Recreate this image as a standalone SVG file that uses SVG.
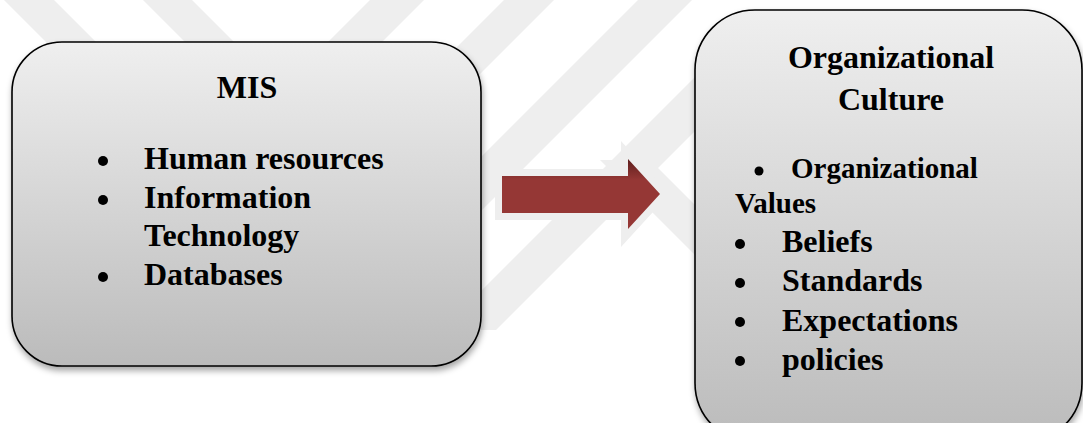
<svg xmlns="http://www.w3.org/2000/svg" width="1083" height="423" viewBox="0 0 1083 423">
  <style>
    .box { stroke: #000000; stroke-width: 1.6; fill: url(#boxGrad); filter: url(#shadow); }
    .t { font-family: "Liberation Serif", "Times New Roman", serif; font-weight: bold; fill: #000000; }
    .big { font-size: 32px; }
    .mid { font-size: 29px; }
    .band { fill: #eeeeee; }
    .dot { fill: #000000; }
  </style>
  <defs>
    <linearGradient id="boxGrad" x1="0" y1="0" x2="0" y2="1">
      <stop offset="0" stop-color="#efefef"/>
      <stop offset="1" stop-color="#bbbbbb"/>
    </linearGradient>
    <linearGradient id="arrowGrad" x1="0" y1="0" x2="0" y2="1">
      <stop offset="0" stop-color="#5e1f1d"/>
      <stop offset="0.3" stop-color="#953735"/>
      <stop offset="1" stop-color="#953735"/>
    </linearGradient>
    <filter id="shadow" x="-10%" y="-10%" width="120%" height="125%">
      <feDropShadow dx="1" dy="4" stdDeviation="3" flood-color="#000000" flood-opacity="0.35"/>
    </filter>
  </defs>

  <g id="watermark">
    <polygon class="band" points="4,0 54,0 134,80 84,80"/>
    <polygon class="band" points="143,0 192,0 272,80 223,80"/>
    <polygon class="band" points="370,0 424,0 364,60 310,60"/>
    <polygon class="band" points="504,0 554,0 474,80 424,80"/>
    <polygon class="band" points="638,0 692,0 472,220 418,220"/>
    <polygon class="band" points="712,60 766,60 496,330 442,330"/>
    <polygon class="band" points="600,160 650,160 770,280 720,280"/>
  </g>

  <g id="node-mis">
    <rect class="box" x="12" y="42" width="469" height="324" rx="50" ry="50"/>
    <text class="t big" x="247" y="98" text-anchor="middle">MIS</text>
    <circle class="dot" cx="103" cy="161" r="5"/>
    <text class="t big" x="144" y="169">Human resources</text>
    <circle class="dot" cx="103" cy="200" r="5"/>
    <text class="t big" x="144" y="207.7">Information</text>
    <text class="t big" x="144" y="246.4">Technology</text>
    <circle class="dot" cx="103" cy="277" r="5"/>
    <text class="t big" x="144" y="285">Databases</text>
  </g>

  <g id="connectors">
    <polygon points="502,176 628,176 628,159 660,194 628,229 628,213 502,213" fill="none" stroke="#eeeeee" stroke-width="14" stroke-linejoin="miter"/>
    <polygon points="502,176 628,176 628,159 660,194 628,229 628,213 502,213" fill="url(#arrowGrad)"/>
  </g>

  <g id="node-culture">
    <rect class="box" x="695" y="10" width="387" height="433" rx="60" ry="60"/>
    <text class="t big" x="891" y="68" text-anchor="middle">Organizational</text>
    <text class="t big" x="891" y="110" text-anchor="middle">Culture</text>
    <circle class="dot" cx="759" cy="171" r="4.5"/>
    <text class="t mid" x="791" y="178">Organizational</text>
    <text class="t mid" x="735" y="213">Values</text>
    <circle class="dot" cx="740" cy="244" r="5"/>
    <text class="t big" x="782" y="252">Beliefs</text>
    <circle class="dot" cx="740" cy="283" r="5"/>
    <text class="t big" x="782" y="291.3">Standards</text>
    <circle class="dot" cx="740" cy="322" r="5"/>
    <text class="t big" x="782" y="330.6">Expectations</text>
    <circle class="dot" cx="740" cy="361" r="5"/>
    <text class="t big" x="782" y="370">policies</text>
  </g>
</svg>
